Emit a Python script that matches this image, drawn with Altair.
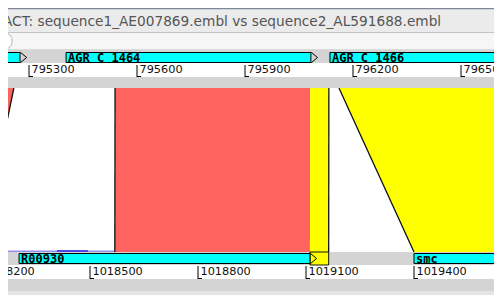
import altair as alt
import pandas as pd

# ---------------- data (base-pair coordinates) ----------------
title_text = "ACT: sequence1_AE007869.embl vs sequence2_AL591688.embl"

top_ticks = [795300, 795600, 795900, 796200, 796500]          # sequence1 ruler
bottom_ticks = [1018200, 1018500, 1018800, 1019100, 1019400]  # sequence2 ruler

top_feat_names = ["", "AGR C 1464", "AGR C 1466"]
top_feat_start = [794900, 795403, 796136]
top_feat_end = [795275, 796083, 797000]
top_feat_arrow = [True, True, False]

bot_feat_names = ["R00930", "smc"]
bot_feat_start = [1018303, 1019400]
bot_feat_end = [1019111, 1020300]
bot_feat_arrow = [True, False]

# comparison matches: top start/end, bottom start/end, kind
match_top_start = [794900, 795539, 796081, 796161]
match_top_end = [795258, 796081, 796133, 796900]
match_bot_start = [1017800, 1018569, 1019111, 1019400]
match_bot_end = [1018194, 1019111, 1019163, 1020300]
match_kind = ["match", "match", "selected", "selected"]

# black edges drawn on matches (top bp, bottom bp)
edge_top = [795258, 795539, 796133, 796161]
edge_bot = [1018194, 1018569, 1019163, 1019400]

# thin blue reverse hits along the bottom
blue_light_start, blue_light_end = 1018150, 1018569
blue_dark_start, blue_dark_end = 1018408, 1018494

# ---------------- layout ----------------
W, H = 486, 287
PX_PER_BP = 108 / 300
TOP_REF_BP, TOP_REF_PX = 795300, 21
BOT_REF_BP, BOT_REF_PX = 1018500, 82
X0 = TOP_REF_BP - TOP_REF_PX / PX_PER_BP
X1 = X0 + W / PX_PER_BP
SHIFT = BOT_REF_BP - (X0 + BOT_REF_PX / PX_PER_BP)  # bottom bp -> display frame

xs = alt.Scale(domain=[X0, X1], nice=False, zero=False)

GRAY = "#d4d4d4"
CYAN = "#00ffff"
RED = "#ff6461"
YELLOW = "#ffff00"

one = pd.DataFrame({"a": [0]})


def band(y0, y1, fill, x0=-20, x1=W + 20, **kw):
    return alt.Chart(one).mark_rect(fill=fill, **kw).encode(
        x=alt.value(x0), x2=alt.value(x1), y=alt.value(y0), y2=alt.value(y1))


def hline(y, color, width=1, x0=0, x1=W):
    return alt.Chart(one).mark_rule(color=color, strokeWidth=width).encode(
        x=alt.value(x0), x2=alt.value(x1), y=alt.value(y))


# window chrome
title_bg = band(0, 24, "#ebebeb")
title_line = hline(0.5, "#7d8799", 1.5)
title = alt.Chart(one).mark_text(
    text=title_text, align="left", baseline="middle", font="DejaVu Sans",
    fontSize=13.7, color="#555555").encode(x=alt.value(-5), y=alt.value(14))
scroll_bg = band(24, 42, "#f6f6f6")
scroll_l1 = hline(24.5, "#c4c4c4")
scroll_l2 = hline(41.5, "#dcdcdc")
scroll_cap = alt.Chart(one).mark_rect(fill="#ffffff", stroke="#b5b5b5", cornerRadius=7).encode(
    x=alt.value(-12), x2=alt.value(4), y=alt.value(25), y2=alt.value(41))

top_track = band(42, 55, GRAY)
top_ruler = band(55, 69, "#ffffff")
mid_gray = band(69, 80, GRAY)
comp_bg = band(80, 244, "#ffffff")
bot_track = band(244, 257, GRAY)
bot_ruler = band(257, 271, "#ffffff")
bot_gray = band(271, 283, GRAY)
bot_grad = band(283, 287, "#e4e4e4")

# comparison polygons (trapezoids)
rows = []
for i in range(len(match_kind)):
    rows.append({"id": i, "t": 0, "x": match_top_start[i], "x2": match_top_end[i], "kind": match_kind[i]})
    rows.append({"id": i, "t": 1, "x": match_bot_start[i] - SHIFT, "x2": match_bot_end[i] - SHIFT,
                 "kind": match_kind[i]})
mdf = pd.DataFrame(rows)
comps = alt.Chart(mdf).mark_area(orient="horizontal", clip=True, opacity=1).encode(
    y=alt.Y("t:Q", scale=alt.Scale(domain=[0, 1], range=[80, 244]), axis=None),
    x=alt.X("x:Q", scale=xs, axis=None, stack=None),
    x2="x2:Q",
    color=alt.Color("kind:N", scale=alt.Scale(domain=["match", "selected"], range=[RED, YELLOW]),
                    legend=None),
    detail="id:N",
)

edf = pd.DataFrame({"x": edge_top, "x2": [b - SHIFT for b in edge_bot]})
edges = alt.Chart(edf).mark_rule(color="#111111", strokeWidth=1.3, clip=True).encode(
    x=alt.X("x:Q", scale=xs, axis=None), x2="x2:Q", y=alt.value(80), y2=alt.value(244))

bl_df = pd.DataFrame({"x": [blue_light_start - SHIFT], "x2": [blue_light_end - SHIFT]})
bd_df = pd.DataFrame({"x": [blue_dark_start - SHIFT], "x2": [blue_dark_end - SHIFT]})
blue_light = alt.Chart(bl_df).mark_rule(strokeWidth=1.6, color="#8f8ff5", clip=True).encode(
    x=alt.X("x:Q", scale=xs, axis=None), x2="x2:Q", y=alt.value(243.2))
blue_dark = alt.Chart(bd_df).mark_rule(strokeWidth=1.8, color="#3d3de0", clip=True).encode(
    x=alt.X("x:Q", scale=xs, axis=None), x2="x2:Q", y=alt.value(243))

# yellow selected block crossing the bottom track
ydf = pd.DataFrame({"x": [match_bot_start[2] - SHIFT], "x2": [match_bot_end[2] - SHIFT]})
ybox = alt.Chart(ydf).mark_rect(fill=YELLOW, stroke="#111111", strokeWidth=1).encode(
    x=alt.X("x:Q", scale=xs, axis=None), x2="x2:Q", y=alt.value(244), y2=alt.value(257))

# features
tf = pd.DataFrame({"x": top_feat_start, "x2": top_feat_end, "name": top_feat_names,
                   "arrow": top_feat_arrow})
bf = pd.DataFrame({"x": [s - SHIFT for s in bot_feat_start], "x2": [e - SHIFT for e in bot_feat_end],
                   "name": bot_feat_names, "arrow": bot_feat_arrow})

ARROW = "M-0.6,-1L0.6,0L-0.6,1"


def features(df, y0, y1):
    boxes = alt.Chart(df).mark_rect(fill=CYAN, stroke="#000000", strokeWidth=1).encode(
        x=alt.X("x:Q", scale=xs, axis=None), x2="x2:Q", y=alt.value(y0), y2=alt.value(y1))
    labels = alt.Chart(df[df["name"] != ""]).mark_text(
        align="left", baseline="middle", dx=2, font="DejaVu Sans Mono", fontWeight="bold",
        fontSize=12, color="#000000").encode(
        x=alt.X("x:Q", scale=xs, axis=None), y=alt.value((y0 + y1) / 2 + 0.5), text="name:N")
    arrows = alt.Chart(df[df["arrow"]]).mark_point(
        shape=ARROW, size=110, filled=False, stroke="#000000", strokeWidth=1, xOffset=3.5,
        opacity=1).encode(
        x=alt.X("x2:Q", scale=xs, axis=None), y=alt.value((y0 + y1) / 2))
    return boxes, labels, arrows


tb, tl, ta = features(tf, 44.5, 54.5)
bb, bl, ba = features(bf, 245.5, 255.5)

ttd = pd.DataFrame({"x": top_ticks, "label": [str(t) for t in top_ticks]})
btd = pd.DataFrame({"x": [t - SHIFT for t in bottom_ticks], "label": [str(t) for t in bottom_ticks]})


def ruler_layers(df, y0, y1, ylab):
    v = alt.Chart(df).mark_rule(color="#000000", strokeWidth=1).encode(
        x=alt.X("x:Q", scale=xs, axis=None), y=alt.value(y0), y2=alt.value(y1))
    foot = alt.Chart(df).mark_rule(color="#000000", strokeWidth=1, x2Offset=4).encode(
        x=alt.X("x:Q", scale=xs, axis=None), x2="x:Q", y=alt.value(y1 - 0.5))
    txt = alt.Chart(df).mark_text(align="left", baseline="middle", dx=2.5, font="DejaVu Sans",
                                  fontSize=11.3, color="#111111").encode(
        x=alt.X("x:Q", scale=xs, axis=None), y=alt.value(ylab), text="label:N")
    return v, foot, txt


tv, tfo, tt = ruler_layers(ttd, 57, 69, 62)
bv, bfo, bt = ruler_layers(btd, 258, 271, 264)

chart = alt.layer(
    title_bg, title_line, title, scroll_bg, scroll_l1, scroll_l2, scroll_cap,
    top_track, top_ruler, mid_gray, comp_bg, bot_track, bot_ruler, bot_gray, bot_grad,
    comps, blue_light, blue_dark, edges, ybox,
    tb, tl, ta, bb, bl, ba,
    tv, tfo, tt, bv, bfo, bt,
).resolve_scale(color="independent").properties(
    width=W, height=H, padding=0,
    autosize=alt.AutoSizeParams(type="none"),
    background="#ffffff",
).configure_view(strokeWidth=0)

chart.save("out.html", embed_options={"renderer": "svg", "actions": False})
